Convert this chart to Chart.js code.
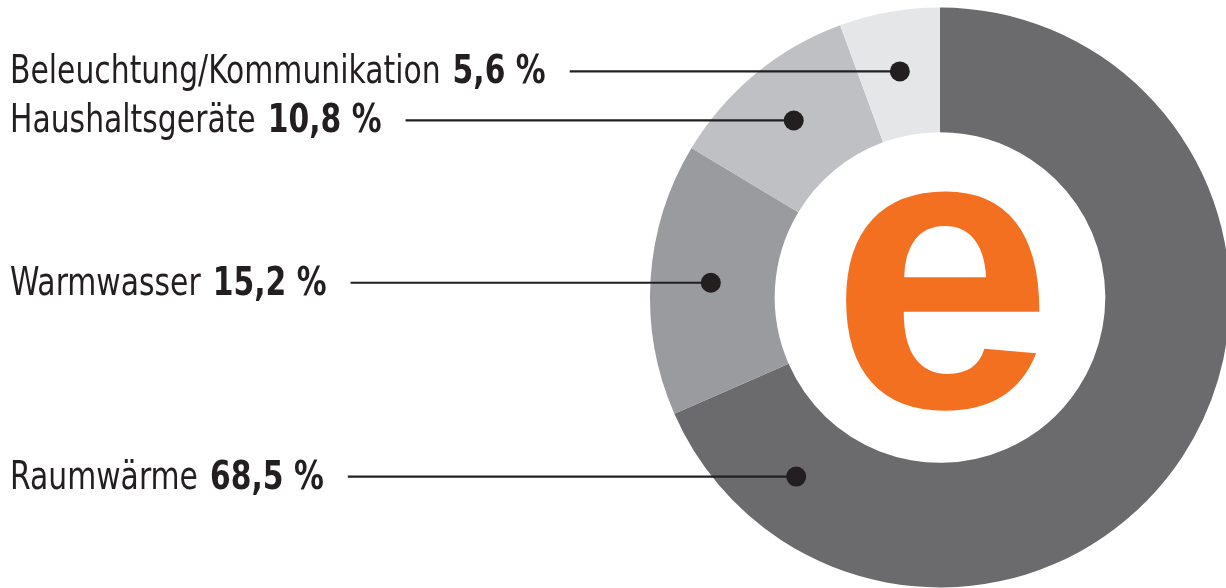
<!DOCTYPE html>
<html>
<head>
<meta charset="utf-8">
<script src="https://cdn.jsdelivr.net/npm/chart.js@4.4.1/dist/chart.umd.min.js"></script>
<style>
html, body { margin: 0; padding: 0; background: #fff; overflow: hidden; }
#wrap { position: absolute; left: 0; top: 0; width: 1230px; height: 595px; }
</style>
</head>
<body>
<div id="wrap"><canvas id="donut"></canvas></div>
<script>
const categories = ['Raumwärme', 'Warmwasser', 'Haushaltsgeräte', 'Beleuchtung/Kommunikation'];
const shares = [68.5, 15.2, 10.8, 5.6];
const valueLabels = ['68,5 %', '15,2 %', '10,8 %', '5,6 %'];
const sliceColors = ['#6b6b6d', '#9a9b9e', '#bfc0c3', '#e5e6e8'];
// where along each slice the callout dot sits (0 = start, 1 = end)
const anchorPos = [0.888, 0.5, 0.5, 0.5];

const labelFont = '"Liberation Sans Narrow", "DejaVu Sans Condensed", sans-serif';
const squeeze = 0.85; // narrow the condensed face a bit more

function drawSqueezed(ctx, text, x, y) {
    ctx.save();
    ctx.translate(x, y);
    ctx.scale(squeeze, 1);
    ctx.fillText(text, 0, 0);
    ctx.restore();
    return ctx.measureText(text).width * squeeze;
}

const calloutPlugin = {
    id: 'callouts',
    afterDraw(chart) {
        const ctx = chart.ctx;
        const meta = chart.getDatasetMeta(0);
        ctx.save();

        // big orange "e" in the hole
        const first = meta.data[0];
        const cx = first.x, cy = first.y;
        ctx.font = 'bold 400px "Liberation Sans", Arial, sans-serif';
        ctx.fillStyle = '#f37021';
        ctx.textBaseline = 'alphabetic';
        ctx.textAlign = 'left';
        const m = ctx.measureText('e');
        const w = m.actualBoundingBoxLeft + m.actualBoundingBoxRight;
        const h = m.actualBoundingBoxAscent + m.actualBoundingBoxDescent;
        ctx.fillText('e', cx + 3 - w / 2 + m.actualBoundingBoxLeft, cy + 3 - h / 2 + m.actualBoundingBoxAscent);

        meta.data.forEach((arc, i) => {
            const p = arc.getProps(['x', 'y', 'startAngle', 'endAngle', 'innerRadius', 'outerRadius'], true);
            const a = p.startAngle + (p.endAngle - p.startAngle) * anchorPos[i];
            const r = (p.innerRadius + p.outerRadius) / 2 + 2;
            const dotX = p.x + Math.cos(a) * r;
            const dotY = p.y + Math.sin(a) * r;

            ctx.fillStyle = '#231f20';
            const baseY = dotY + 12;
            let x = 10;
            ctx.font = '39px ' + labelFont;
            x += drawSqueezed(ctx, categories[i], x, baseY) + 12;
            ctx.font = 'bold 39px ' + labelFont;
            x += drawSqueezed(ctx, valueLabels[i], x, baseY) + 24;

            ctx.strokeStyle = '#231f20';
            ctx.lineWidth = 2.2;
            ctx.beginPath();
            ctx.moveTo(x, dotY);
            ctx.lineTo(dotX, dotY);
            ctx.stroke();

            ctx.beginPath();
            ctx.arc(dotX, dotY, 10, 0, Math.PI * 2);
            ctx.fill();
        });
        ctx.restore();
    }
};

new Chart(document.getElementById('donut'), {
    type: 'doughnut',
    data: {
        labels: categories,
        datasets: [{
            data: shares,
            backgroundColor: sliceColors,
            borderWidth: 0
        }]
    },
    options: {
        responsive: true,
        maintainAspectRatio: false,
        animation: false,
        cutout: '57%',
        layout: {
            padding: { left: 650 }
        },
        plugins: {
            legend: { display: false },
            tooltip: { enabled: false }
        }
    },
    plugins: [calloutPlugin]
});
</script>
</body>
</html>
